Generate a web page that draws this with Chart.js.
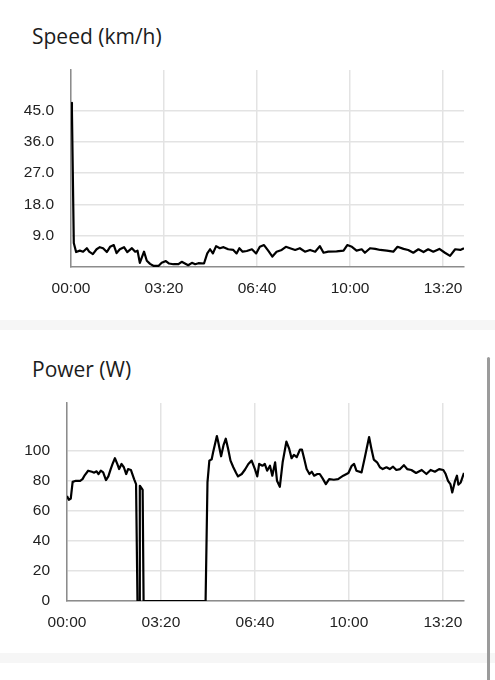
<!DOCTYPE html>
<html>
<head>
<meta charset="utf-8">
<script src="https://cdn.jsdelivr.net/npm/chart.js@4"></script>
<style>
  html, body { margin: 0; padding: 0; background: #fff; }
  body { width: 495px; height: 680px; position: relative; overflow: hidden; font-family: "Open Sans", "Noto Sans", sans-serif; }
  .titulo { position: absolute; left: 32px; font-size: 21px; line-height: 21px; color: #1c1c1c; white-space: nowrap; }
  .caja { position: absolute; left: 0; }
  .separador { position: absolute; left: 0; width: 495px; height: 10px; background: #f6f6f6; }
  #scroll { position: absolute; left: 487px; top: 357px; width: 3px; height: 330px; background: #9b9b9b; border-radius: 2px; }
</style>
</head>
<body>
<div class="titulo" style="top:26px">Speed (km/h)</div>
<canvas id="speed" class="caja" style="top:62px" width="466" height="235"></canvas>
<div class="separador" style="top:320px"></div>
<div class="titulo" style="top:359px">Power (W)</div>
<canvas id="power" class="caja" style="top:395px" width="466" height="236"></canvas>
<div class="separador" style="top:653px"></div>
<div id="scroll"></div>

<script>
// tiempo en segundos desde el inicio
const speedTimes = [0, 2, 6, 11, 19, 26, 34, 39, 47, 55, 62, 69, 77, 84, 92, 98, 105, 114, 121, 131,
  138, 143, 148, 152, 157, 163, 170, 178, 188, 195, 204, 211, 220, 231, 238, 245, 252, 260, 267, 274,
  286, 293, 299, 305, 312, 320, 328, 338, 349, 356, 362, 369, 378, 389, 398, 406, 415, 424, 433, 442,
  453, 462, 471, 482, 492, 503, 514, 525, 535, 543, 553, 571, 586, 594, 604, 614, 625, 632, 643, 654,
  665, 679, 693, 702, 715, 725, 736, 747, 758, 768, 779, 792, 804, 815, 826, 837, 845];
const speedValues = [47.2, 44.9, 6.9, 4.3, 4.7, 4.4, 5.4, 4.4, 3.7, 5.1, 5.7, 5.4, 4.3, 5.8, 6.3, 4.0, 5.1, 5.7, 4.3, 5.4,
  4.4, 4.7, 1.2, 2.6, 4.4, 1.8, 0.9, 0.3, 0.3, 1.2, 1.7, 1.0, 0.8, 0.8, 1.5, 1.0, 0.5, 1.2, 0.8, 1.1,
  1.0, 3.9, 5.1, 3.9, 6.0, 5.4, 5.7, 5.1, 4.9, 3.9, 5.4, 4.4, 4.6, 5.1, 3.9, 5.8, 6.3, 4.7, 3.0, 4.4,
  4.9, 5.8, 5.4, 4.9, 5.4, 4.4, 4.9, 4.4, 6.0, 4.1, 4.4, 4.5, 4.7, 6.3, 5.8, 4.7, 5.1, 4.1, 5.4, 5.2,
  4.9, 4.7, 4.4, 5.8, 5.2, 4.9, 4.1, 5.1, 4.3, 5.1, 4.4, 5.2, 4.1, 3.2, 5.1, 4.9, 5.4];

const powerTimes = [0, 4, 8, 12, 19, 28, 33, 38, 45, 53, 58, 63, 67, 72, 77, 83, 88, 93, 97, 102,
  107, 111, 116, 121, 126, 130, 136, 143, 147, 150, 154, 155, 159, 161, 163, 295, 299, 303, 308, 311,
  319, 322, 328, 333, 338, 343, 348, 354, 360, 364, 372, 379, 386, 393, 400, 405, 409, 416, 421, 426,
  432, 437, 443, 447, 453, 459, 467, 473, 478, 483, 489, 496, 500, 505, 510, 516, 521, 526, 533, 538,
  544, 551, 558, 568, 577, 588, 599, 606, 611, 616, 627, 634, 643, 648, 653, 660, 666, 672, 680, 687,
  694, 701, 709, 717, 724, 733, 743, 755, 765, 774, 783, 792, 801, 806, 811, 816, 820, 826, 830, 833,
  838, 845];
const powerValues = [69.9, 67.3, 68.2, 79.3, 80.0, 80.0, 81.1, 83.8, 86.7, 86.0, 85.4, 86.3, 84.5, 86.7, 85.6, 80.5, 82.9, 87.8, 91.2, 95.0,
  91.2, 87.8, 91.2, 89.0, 84.5, 87.8, 87.2, 81.0, 77.8, 0, 0, 76.7, 75.0, 74.0, 0, 0, 78.9, 93.4, 94.3, 99.0,
  109.8, 105.7, 96.3, 103.5, 108.0, 101.2, 93.4, 89.0, 85.2, 82.9, 84.5, 87.5, 91.2, 93.4, 87.8, 82.9, 91.2, 90.0, 91.2, 86.7,
  90.0, 83.4, 92.3, 80.0, 76.0, 92.3, 106.1, 101.2, 95.0, 97.2, 95.7, 100.8, 100.8, 94.5, 87.8, 84.5, 86.0, 83.4, 84.5, 84.5,
  81.6, 77.8, 81.1, 80.7, 81.1, 83.4, 85.2, 90.0, 91.2, 86.7, 85.6, 95.7, 109.1, 101.2, 94.1, 92.3, 89.0, 87.8, 89.0, 87.8,
  89.4, 87.2, 87.8, 90.4, 87.8, 87.2, 85.2, 87.2, 84.5, 87.2, 86.0, 87.8, 87.2, 84.5, 80.0, 77.8, 72.2, 80.0, 83.4, 77.4,
  78.9, 85.2];

const xTicks = [0, 200, 400, 600, 800];
const xTickLabels = ["00:00", "03:20", "06:40", "10:00", "13:20"];
const speedTicks = [9, 18, 27, 36, 45];
const powerTicks = [0, 20, 40, 60, 80, 100];

const fuenteTicks = { family: '"Liberation Sans", Arial, sans-serif', size: 15.5 };

// quita el relleno que Chart.js reserva para las etiquetas de los extremos
function sinRelleno(s) {
  s.paddingTop = 0; s.paddingBottom = 0; s.paddingLeft = 0; s.paddingRight = 0;
}

function crearGrafico(id, tiempos, valores, yTicks, decimales, anchoEje) {
  const puntos = tiempos.map((t, i) => ({ x: t, y: valores[i] }));
  return new Chart(document.getElementById(id), {
    type: 'line',
    data: {
      datasets: [{
        data: puntos,
        borderColor: '#000',
        borderWidth: 2.2,
        pointRadius: 0,
        tension: 0,
        borderJoinStyle: 'round'
      }]
    },
    options: {
      responsive: false,
      animation: false,
      layout: { padding: { top: 8, right: 2, left: 0, bottom: 0 } },
      plugins: { legend: { display: false }, tooltip: { enabled: false } },
      scales: {
        x: {
          type: 'linear',
          min: 0,
          max: tiempos[tiempos.length - 1],
          afterBuildTicks: s => { s.ticks = xTicks.map(v => ({ value: v })); },
          afterFit: s => { s.height = 30; sinRelleno(s); },
          ticks: {
            callback: (v, i) => xTickLabels[i],
            color: '#222', font: fuenteTicks, padding: 12, maxRotation: 0, autoSkip: false
          },
          grid: { color: '#e3e3e3', lineWidth: 1.5, drawTicks: false },
          border: { color: '#8c8c8c', width: 1.5 }
        },
        y: {
          min: 0,
          max: Math.max(...valores) * 1.2,
          afterBuildTicks: s => { s.ticks = yTicks.map(v => ({ value: v })); },
          afterFit: s => { s.width = anchoEje; sinRelleno(s); },
          ticks: {
            callback: v => v.toFixed(decimales),
            color: '#222', font: fuenteTicks, padding: 17, autoSkip: false
          },
          grid: { color: '#e3e3e3', lineWidth: 1.5, drawTicks: false },
          border: { color: '#8c8c8c', width: 1.5 }
        }
      }
    }
  });
}

crearGrafico('speed', speedTimes, speedValues, speedTicks, 1, 71);
crearGrafico('power', powerTimes, powerValues, powerTicks, 0, 67);
</script>
</body>
</html>
